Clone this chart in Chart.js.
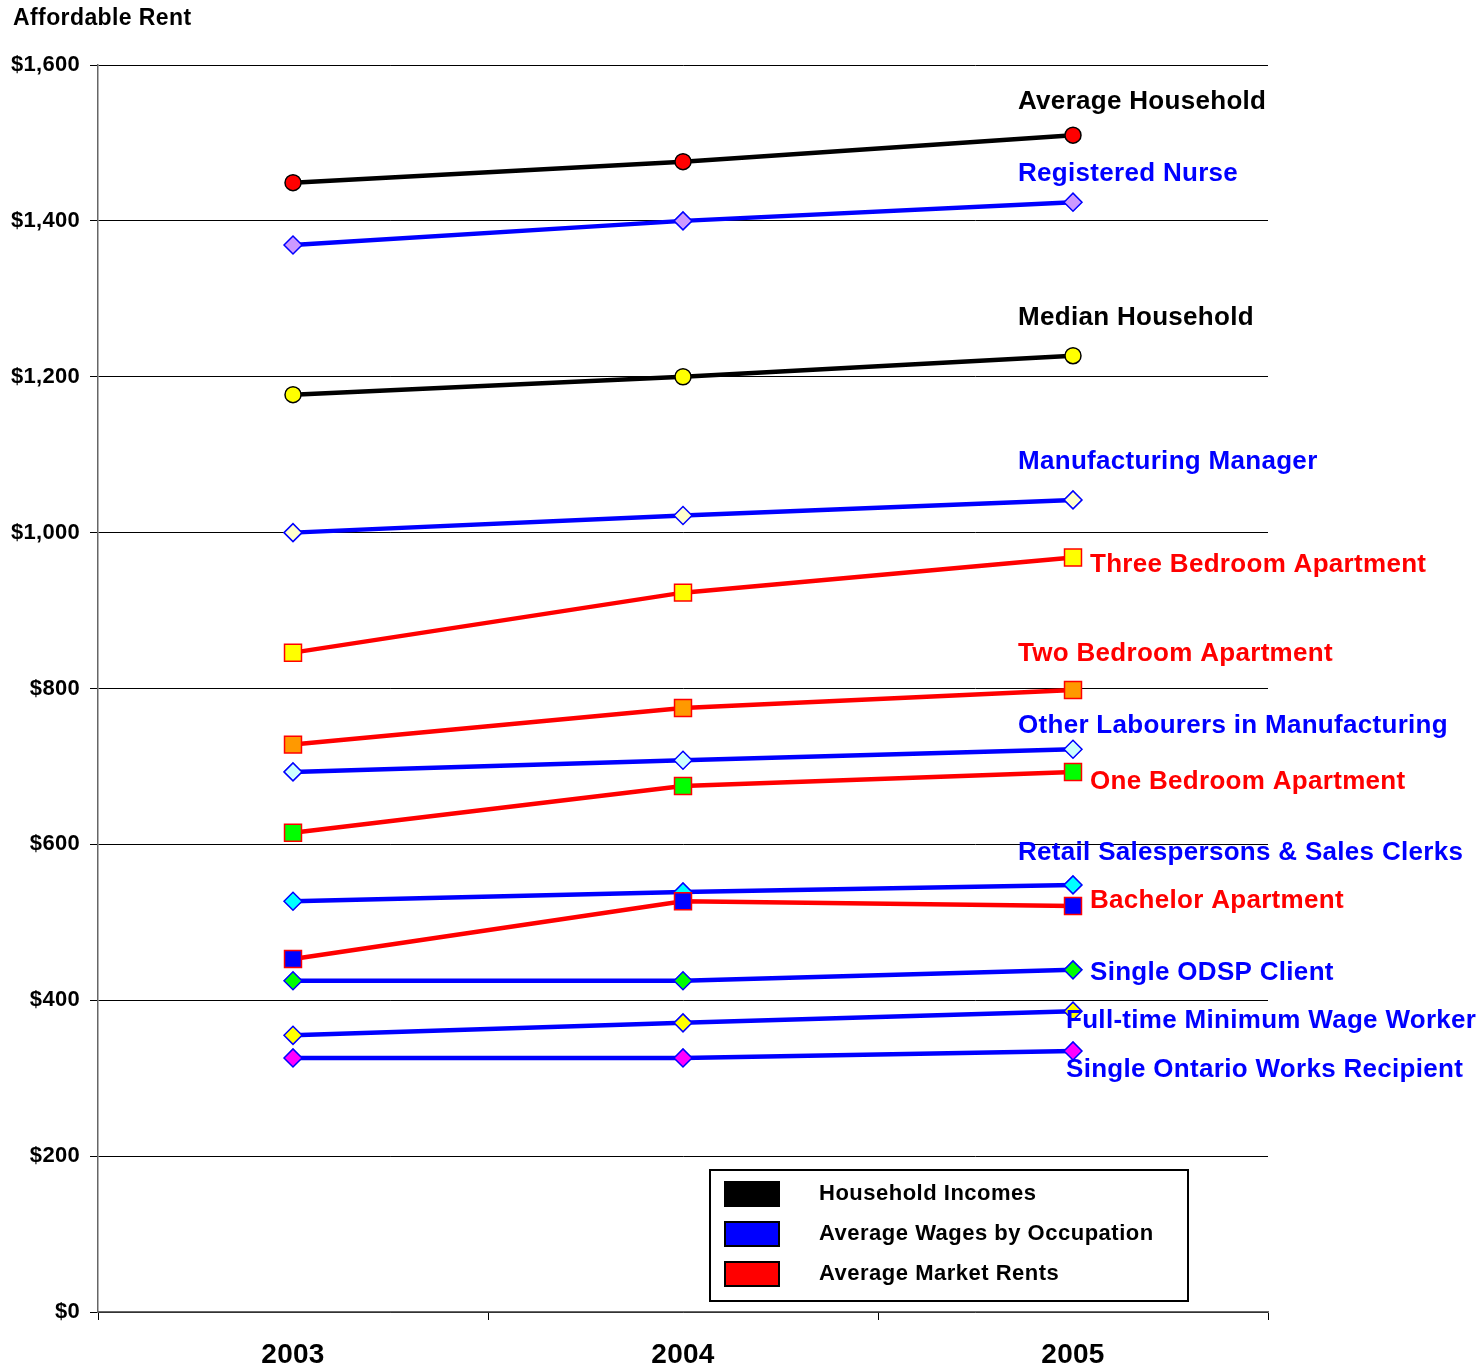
<!DOCTYPE html>
<html>
<head>
<meta charset="utf-8">
<script src="https://cdn.jsdelivr.net/npm/chart.js@4/dist/chart.umd.min.js"></script>
<style>
  html, body { margin: 0; padding: 0; background: #fff; }
  #wrap { width: 1483px; height: 1372px; }
</style>
</head>
<body>
<div id="wrap"><canvas id="rentas"></canvas></div>
<script>
var anios = ['2003', '2004', '2005'];

// hogares
var hogarPromedio = [1449, 1476, 1510];
var hogarMediano = [1177, 1200, 1227];

// salarios por ocupacion
var enfermera = [1369, 1400, 1424];
var gerenteManufactura = [1000, 1022, 1042];
var otrosObreros = [693, 708, 722];
var vendedores = [527, 539, 548];
var clienteODSP = [425, 425, 439];
var salarioMinimo = [355, 371, 386];
var ontarioWorks = [326, 326, 335];

// rentas de mercado
var tresRecamaras = [846, 923, 968];
var dosRecamaras = [728, 775, 798];
var unaRecamara = [615, 675, 693];
var soltero = [453, 527, 521];

var ticksY = [0, 200, 400, 600, 800, 1000, 1200, 1400, 1600];

var NEGRO = '#000000', AZUL = '#0000FF', ROJO = '#FF0000';

function serie(nombre, datos, color, forma, relleno, borde, dx, dy) {
  var cuadro = forma === 'rect';
  return {
    label: nombre,
    data: datos,
    borderColor: color,
    borderWidth: 4.5,
    tension: 0,
    pointStyle: forma,
    pointRadius: cuadro ? 12 : (forma === 'circle' ? 8 : 9),
    pointBackgroundColor: relleno,
    pointBorderColor: borde,
    pointBorderWidth: 1.5,
    etiquetaDx: dx,
    etiquetaDy: dy,
    etiquetaColor: color
  };
}

var datasets = [
  serie('Average Household', hogarPromedio, NEGRO, 'circle', '#FF0000', NEGRO, -55, -33),
  serie('Registered Nurse', enfermera, AZUL, 'rectRot', '#CC99FF', AZUL, -55, -28),
  serie('Median Household', hogarMediano, NEGRO, 'circle', '#FFFF00', NEGRO, -55, -38),
  serie('Manufacturing Manager', gerenteManufactura, AZUL, 'rectRot', '#FFFFCC', AZUL, -55, -38),
  serie('Three Bedroom Apartment', tresRecamaras, ROJO, 'rect', '#FFFF00', ROJO, 17, 7),
  serie('Two Bedroom Apartment', dosRecamaras, ROJO, 'rect', '#FF9900', ROJO, -55, -36),
  serie('Other Labourers in Manufacturing', otrosObreros, AZUL, 'rectRot', '#CCFFFF', AZUL, -55, -23),
  serie('One Bedroom Apartment', unaRecamara, ROJO, 'rect', '#00FF00', ROJO, 17, 10),
  serie('Bachelor Apartment', soltero, ROJO, 'rect', '#0000FF', ROJO, 17, -5),
  serie('Retail Salespersons & Sales Clerks', vendedores, AZUL, 'rectRot', '#00FFFF', AZUL, -55, -32),
  serie('Single ODSP Client', clienteODSP, AZUL, 'rectRot', '#00FF00', AZUL, 17, 3),
  serie('Full-time Minimum Wage Worker', salarioMinimo, AZUL, 'rectRot', '#FFFF00', AZUL, -7, 10),
  serie('Single Ontario Works Recipient', ontarioWorks, AZUL, 'rectRot', '#FF00FF', AZUL, -7, 19)
];

var leyenda = [
  { texto: 'Household Incomes', color: NEGRO },
  { texto: 'Average Wages by Occupation', color: AZUL },
  { texto: 'Average Market Rents', color: ROJO }
];

var FUENTE = 'Arial, "Liberation Sans", sans-serif';

var extras = {
  id: 'extras',
  beforeDraw: function (chart) {
    var ctx = chart.ctx;
    ctx.letterSpacing = '0.3px';
    ctx.save();
    ctx.fillStyle = '#000';
    ctx.font = 'bold 23px ' + FUENTE;
    ctx.letterSpacing = '0.4px';
    ctx.textAlign = 'left';
    ctx.textBaseline = 'middle';
    ctx.fillText('Affordable Rent', 13, 19);
    ctx.restore();
  },
  afterDatasetsDraw: function (chart) {
    var ctx = chart.ctx;
    ctx.save();
    ctx.letterSpacing = '0.3px';
    ctx.font = 'bold 26px ' + FUENTE;
    ctx.textAlign = 'left';
    ctx.textBaseline = 'middle';
    chart.data.datasets.forEach(function (ds, i) {
      var p = chart.getDatasetMeta(i).data[ds.data.length - 1];
      ctx.fillStyle = ds.etiquetaColor;
      ctx.fillText(ds.label, p.x + ds.etiquetaDx, p.y + ds.etiquetaDy);
    });

    // cuadro de leyenda
    ctx.lineWidth = 2;
    ctx.strokeStyle = '#000';
    ctx.fillStyle = '#fff';
    ctx.fillRect(710, 1170, 478, 131);
    ctx.strokeRect(710, 1170, 478, 131);
    ctx.font = 'bold 22px ' + FUENTE;
    ctx.letterSpacing = '0.5px';
    leyenda.forEach(function (l, k) {
      var y = 1194 + k * 40;
      ctx.fillStyle = l.color;
      ctx.fillRect(725, y - 12, 54, 24);
      ctx.strokeStyle = '#000';
      ctx.lineWidth = 2;
      ctx.strokeRect(725, y - 12, 54, 24);
      ctx.fillStyle = '#000';
      ctx.fillText(l.texto, 819, y);
    });
    ctx.restore();
  }
};

new Chart(document.getElementById('rentas').getContext('2d'), {
  type: 'line',
  data: { labels: anios, datasets: datasets },
  options: {
    responsive: true,
    maintainAspectRatio: false,
    animation: false,
    layout: { padding: { top: 65, right: 215, bottom: 0, left: 0 } },
    plugins: {
      legend: { display: false },
      tooltip: { enabled: false }
    },
    scales: {
      x: {
        offset: true,
        grid: {
          offset: true,
          drawOnChartArea: false,
          drawTicks: true,
          tickLength: 8,
          color: '#000'
        },
        border: { color: '#666', width: 1.5 },
        ticks: {
          color: '#000',
          padding: 18,
          font: { family: FUENTE, size: 28, weight: 'bold' }
        },
        afterFit: function (s) { s.height = 60; }
      },
      y: {
        min: 0,
        max: 1600,
        afterBuildTicks: function (s) {
          s.ticks = ticksY.map(function (v) { return { value: v }; });
        },
        grid: {
          color: '#000',
          lineWidth: 1,
          tickLength: 8
        },
        border: { color: '#666', width: 1.5 },
        ticks: {
          color: '#000',
          padding: 10,
          font: { family: FUENTE, size: 22, weight: 'bold' },
          callback: function (v) { return '$' + v.toLocaleString('en-US'); }
        },
        afterFit: function (s) { s.width = 98; }
      }
    }
  },
  plugins: [extras]
});
</script>
</body>
</html>
